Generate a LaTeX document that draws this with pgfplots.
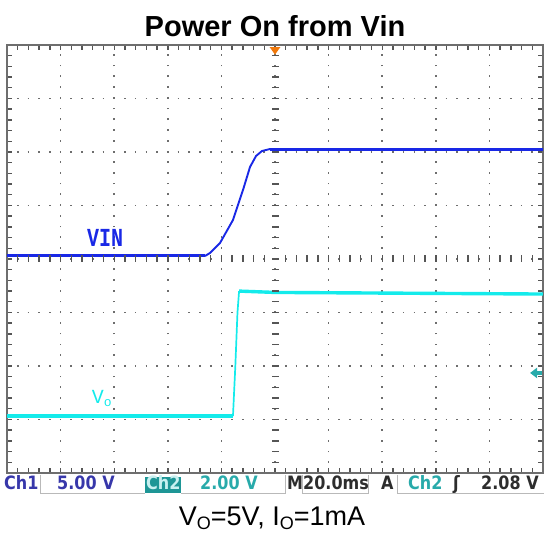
\documentclass[border=0pt]{standalone}
\usepackage{pgfplots}
\pgfplotsset{compat=1.18}
\usepackage{fontspec}
\setmainfont{Liberation Sans}
\newfontfamily\scopefont{DejaVu Sans}
\newfontfamily\monofont{Liberation Mono}
\definecolor{vinblue}{RGB}{25,40,230}
\definecolor{vocyan}{RGB}{20,235,235}
\definecolor{chone}{RGB}{55,55,170}
\definecolor{chtwo}{RGB}{40,170,170}
\definecolor{chtwobg}{RGB}{30,150,150}
\definecolor{trigorange}{RGB}{240,120,10}
\definecolor{gridgray}{RGB}{110,110,110}
\definecolor{tickgray}{RGB}{85,85,85}
\definecolor{framegray}{RGB}{110,110,110}
\definecolor{boxgray}{RGB}{185,185,185}
\begin{document}
\begin{tikzpicture}[x=1pt,y=1pt]
\useasboundingbox (0,0) rectangle (544,534);
\begin{axis}[at={(7pt,61pt)}, anchor=south west, width=536pt, height=428pt, scale only axis,
  xmin=-5, xmax=5, ymin=-4, ymax=4,
  axis line style={framegray, line width=1.8pt},
  xtick={-5,...,5}, ytick={-4,...,4}, minor x tick num=4, minor y tick num=4,
  xticklabels={}, yticklabels={}, tick align=inside, major tick length=5pt, minor tick length=5pt,
  tick style={tickgray, line width=1.4pt, solid},
  grid=major, major grid style={gridgray, line width=1.7pt, dash pattern=on 1.7pt off 9.02pt, dash phase=0.85pt},
  clip=false]
% centre cross tick marks of the graticule
\addplot[only marks, mark=|, mark size=3.5pt, tickgray, mark options={line width=1.4pt}] coordinates {
(-4.8,0) (-4.6,0) (-4.4,0) (-4.2,0) (-4.0,0) (-3.8,0) (-3.6,0) (-3.4,0) (-3.2,0) (-3.0,0)
(-2.8,0) (-2.6,0) (-2.4,0) (-2.2,0) (-2.0,0) (-1.8,0) (-1.6,0) (-1.4,0) (-1.2,0) (-1.0,0)
(-0.8,0) (-0.6,0) (-0.4,0) (-0.2,0) (0.2,0) (0.4,0) (0.6,0) (0.8,0) (1.0,0)
(1.2,0) (1.4,0) (1.6,0) (1.8,0) (2.0,0) (2.2,0) (2.4,0) (2.6,0) (2.8,0) (3.0,0)
(3.2,0) (3.4,0) (3.6,0) (3.8,0) (4.0,0) (4.2,0) (4.4,0) (4.6,0) (4.8,0)};
\addplot[only marks, mark=-, mark size=3.5pt, tickgray, mark options={line width=1.4pt}] coordinates {
(0,-3.8) (0,-3.6) (0,-3.4) (0,-3.2) (0,-3.0) (0,-2.8) (0,-2.6) (0,-2.4) (0,-2.2) (0,-2.0)
(0,-1.8) (0,-1.6) (0,-1.4) (0,-1.2) (0,-1.0) (0,-0.8) (0,-0.6) (0,-0.4) (0,-0.2) (0,0)
(0,0.2) (0,0.4) (0,0.6) (0,0.8) (0,1.0) (0,1.2) (0,1.4) (0,1.6) (0,1.8) (0,2.0)
(0,2.2) (0,2.4) (0,2.6) (0,2.8) (0,3.0) (0,3.2) (0,3.4) (0,3.6) (0,3.8)};
% VIN (Ch1)
\addplot[vinblue, line width=3pt] coordinates {(-5,0.056) (-1.306,0.056)};
\addplot[vinblue, line width=1.9pt] coordinates {(-1.306,0.056) (-1.213,0.112) (-1.026,0.299) (-0.784,0.729) (-0.597,1.290) (-0.466,1.720) (-0.354,1.925) (-0.243,2.019) (-0.093,2.056)};
\addplot[vinblue, line width=3pt] coordinates {(-0.093,2.056) (5,2.056)};
% VO (Ch2)
\addplot[vocyan, line width=3.4pt] coordinates {(-5,-2.935) (-0.784,-2.935)};
\addplot[vocyan, line width=1.7pt] coordinates {(-0.784,-2.935) (-0.74,-2.0) (-0.70,-1.0) (-0.67,-0.60)};
\addplot[vocyan, line width=3.4pt] coordinates {(-0.67,-0.60) (0,-0.625) (5,-0.655)};
% labels on the screen
\node[text=vinblue, font=\monofont\bfseries\fontsize{20}{20}\selectfont, yscale=1.3] at (axis cs:-3.17,0.39) {VIN};
\node[text=vocyan, font=\monofont\fontsize{20}{20}\selectfont] at (axis cs:-3.23,-2.6) {V\raisebox{-3pt}{\fontsize{13}{13}\selectfont o}};
% trigger position and level markers
\fill[trigorange] (axis cs:-0.10,3.96) -- (axis cs:0.10,3.96) -- (axis cs:0,3.82) -- cycle;
\fill[chtwo] (axis cs:4.76,-2.13) -- (axis cs:4.89,-2.03) -- (axis cs:4.89,-2.23) -- cycle;
\fill[chtwo] (axis cs:4.88,-2.17) rectangle (axis cs:4.98,-2.09);
\end{axis}
% title
\node[anchor=base, font=\bfseries\fontsize{29}{34}\selectfont] at (275,497) {Power On from Vin};
% status bar
\draw[boxgray, line width=0.8pt] (40,59) -- (40,41) -- (145,41);
\draw[boxgray, line width=0.8pt] (181,41) -- (285,41) -- (285,59);
\draw[boxgray, line width=0.8pt] (302,59) -- (302,41) -- (368,41) -- (368,59);
\draw[boxgray, line width=0.8pt] (397,59) -- (397,41) -- (544,41);
\fill[chtwobg] (145,41) rectangle (181,57);
\begin{scope}[every node/.style={anchor=base west, inner sep=0pt, yscale=1.15, font=\scopefont\bfseries\fontsize{16}{16}\selectfont}]
\node[text=chone] at (4,44) {Ch1};
\node[text=chone] at (57,44) {5.00 V};
\node[text={rgb,255:red,200;green,240;blue,240}] at (146,44) {Ch2};
\node[text=chtwo] at (200,44) {2.00 V};
\node[text={rgb,255:red,45;green,45;blue,45}] at (287,44) {M};
\node[text={rgb,255:red,45;green,45;blue,45}] at (303,44) {20.0ms};
\node[text={rgb,255:red,45;green,45;blue,45}] at (381,44) {A};
\node[text=chtwo] at (408,44) {Ch2};
\node[text={rgb,255:red,45;green,45;blue,45}] at (453,44) {ʃ};
\node[text={rgb,255:red,45;green,45;blue,45}] at (481,44) {2.08 V};
\end{scope}
% caption
\node[anchor=base, font=\fontsize{27}{30}\selectfont] at (272,8) {V\raisebox{-3.5pt}{\fontsize{18}{18}\selectfont O}=5V, I\raisebox{-3.5pt}{\fontsize{18}{18}\selectfont O}=1mA};
\end{tikzpicture}
\end{document}
